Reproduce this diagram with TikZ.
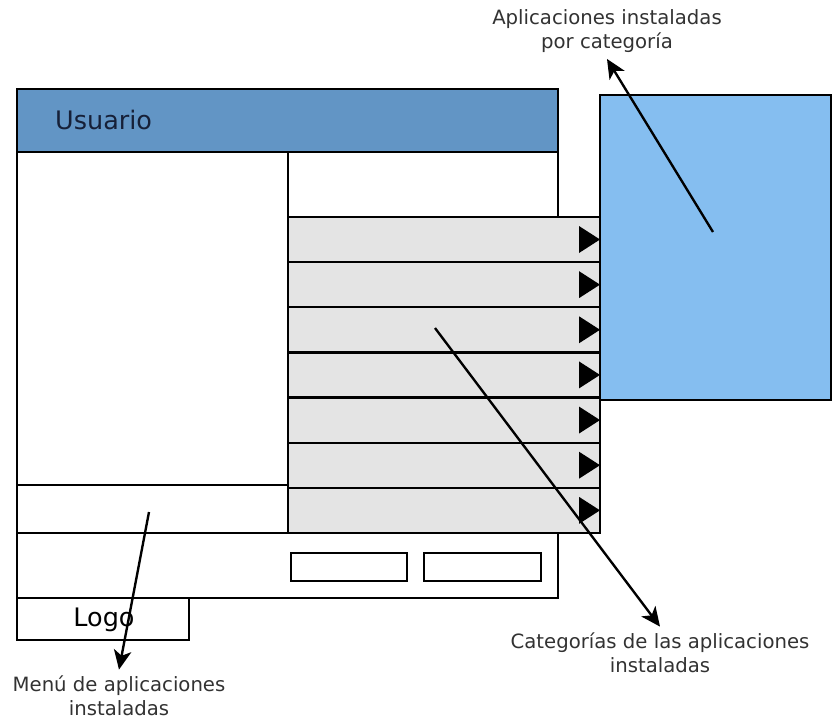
\documentclass[tikz,border=0pt]{standalone}
\usepackage{fontspec}
\setmainfont{DejaVu Sans}
\usepackage{tikz}
\usetikzlibrary{arrows.meta,positioning,calc}
\definecolor{headerblue}{RGB}{98,149,197}
\definecolor{panelblue}{RGB}{133,190,240}
\definecolor{rowgray}{RGB}{228,228,228}
\definecolor{labelgray}{RGB}{50,50,50}
\definecolor{darknavy}{RGB}{22,32,56}

\begin{document}
\begin{tikzpicture}[x=0.02cm, y=-0.02cm, line width=1.35pt,
    >={Stealth[length=11pt,width=10pt,inset=3pt]},
    note/.style={align=center, text=labelgray, font=\fontsize{11.2}{13.6}\selectfont, inner sep=3pt},
    boxtext/.style={inner sep=0pt, text=darknavy, font=\fontsize{14.5}{16}\selectfont}]
    \useasboundingbox (0,0) rectangle (833,721);
    % Cabecera
    \draw[fill=headerblue] (17,89) rectangle (558,152);
    \node[boxtext, anchor=west] (usuario) at (54,120) {Usuario};
    % Panel de aplicaciones
    \draw[fill=panelblue] (600,95) rectangle (831,400);
    % Marco principal
    \draw (17,152) -- (17,598);
    \draw (288,152) -- (288,533);
    \draw (558,152) -- (558,217);
    \draw (17,485) -- (288,485);
    % Categorias
    \draw[fill=rowgray] (288,217) rectangle (600,533);
    \foreach \i in {1,...,6}
        \draw (288,217+45.14*\i) -- (600,217+45.14*\i);
    \foreach \i in {0,...,6}
        \fill (600,239.5+45.14*\i) -- ++(-21,-13.5) -- ++(0,27) -- cycle;
    % Pie
    \draw (17,533) rectangle (558,598);
    \draw (291,553) rectangle (407,581);
    \draw (424,553) rectangle (541,581);
    \draw (17,598) rectangle (189,640);
    \node[boxtext, text=black] (logo) at (104,620) {Logo};
    % Etiquetas
    \node[note] (apps) at (607,31) {Aplicaciones instaladas\\por categoría};
    \node[note] (cats) at (660,653) {Categorías de las aplicaciones\\instaladas};
    \node[note] (menu) at (119,696) {Menú de aplicaciones\\instaladas};
    \coordinate (appsfrom) at (713,232);
    \coordinate (catsfrom) at (435,328);
    \coordinate (menufrom) at (149,512);
    \draw[->] (appsfrom) -- (apps.south);
    \draw[->] (catsfrom) -- (cats.north);
    \draw[->] (menufrom) -- (menu.north);
\end{tikzpicture}
\end{document}
